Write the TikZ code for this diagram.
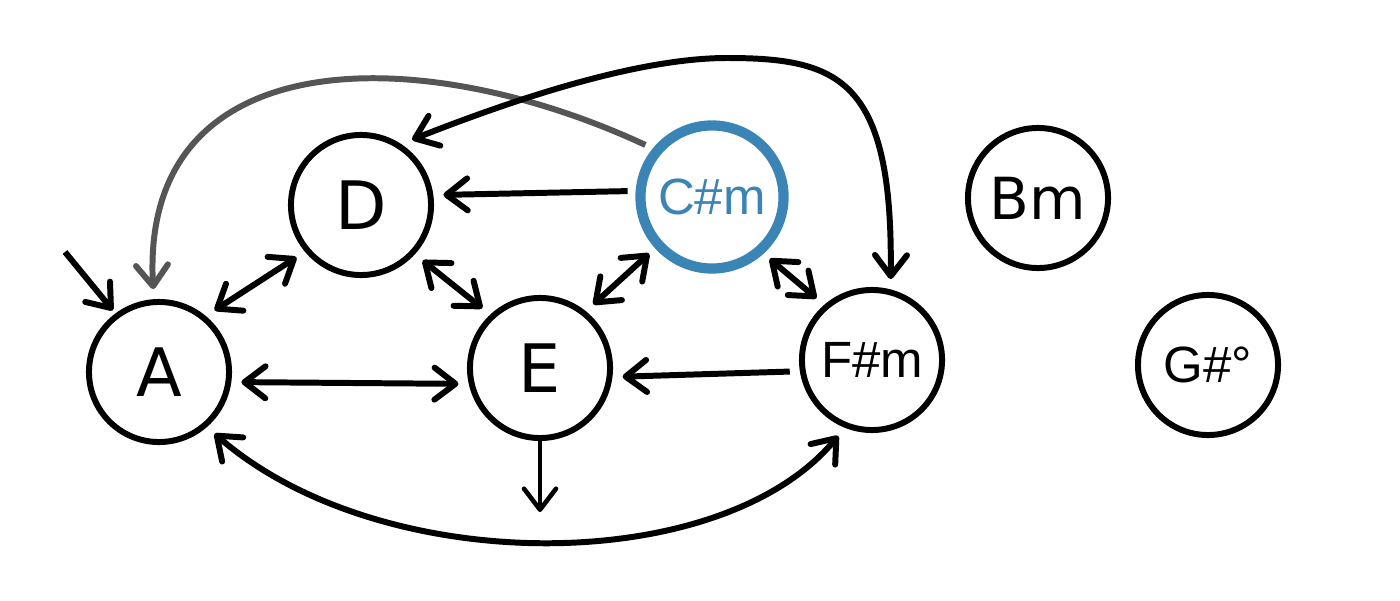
\documentclass[tikz,border=0pt]{standalone}
\usepackage{fontspec}
\setmainfont{DejaVu Sans}
\newfontfamily\arialfont{Liberation Sans}
\usepackage{tikz}
\usepackage{xcolor}
\usetikzlibrary{arrows.meta}
\definecolor{chordblue}{HTML}{3B84B6}
\definecolor{chordgray}{HTML}{555555}
\tikzset{
  chord/.style={circle, draw=black, line width=1.7pt, minimum size=1.4cm, inner sep=0pt, outer sep=0.13cm, font=\fontsize{19pt}{19pt}\selectfont},
  smallchord/.style={chord, font=\arialfont\fontsize{14.5pt}{14.5pt}\selectfont},
  current/.style={smallchord, draw=chordblue, text=chordblue, line width=2.9pt, minimum size=1.43cm},
  move/.style={->, line width=1.7pt, draw=black},
  both/.style={<->, line width=1.7pt, draw=black},
  ghost/.style={->, line width=1.7pt, draw=chordgray}
}

\begin{document}
\begin{tikzpicture}[x=0.01cm, y=-0.01cm, >={Straight Barb[length=2.1mm,width=3.2mm,round]}]
  \useasboundingbox (0,0) rectangle (1400,600);
  \node[chord] (A) at (159,372) {A};
  \node[chord] (D) at (361,205) {D};
  \node[current] (Cm) at (712,197) {C\#m};
  \node[chord] (E) at (540,368) {E};
  \node[smallchord] (Fm) at (872,360) {F\#m};
  \node[chord, font=\fontsize{16.5pt}{16.5pt}\selectfont] (Bm) at (1038,198) {Bm};
  \node[smallchord] (Gd) at (1208,365) {G\#°};
  \coordinate (start) at (65,252);
  \coordinate (out) at (540,512);
  \draw[move, shorten >=-0.06cm] (start) -- (A.127);
  \draw[ghost] (Cm.142) .. controls (420,40) and (140,40) .. (A.94);
  \draw[both] (D.52) .. controls (520,97) and (640,58) .. (727,58) .. controls (840,58) and (893,80) .. (Fm.77);
  \draw[move] (Cm.176) -- (D.7);
  \draw[both] (A.48) -- (D.-141);
  \draw[both] (D.-42) -- (E.134);
  \draw[both] (Cm.-138) -- (E.50);
  \draw[both] (Cm.-47) -- (Fm.132);
  \draw[both] (A.-7) -- (E.-169);
  \draw[move] (Fm.188) -- (E.-6);
  \draw[move, line width=1.3pt] ([yshift=0.13cm]E.south) -- (out);
  \draw[both] (A.-48) .. controls (380,578) and (720,578) .. (Fm.246);
\end{tikzpicture}
\end{document}
